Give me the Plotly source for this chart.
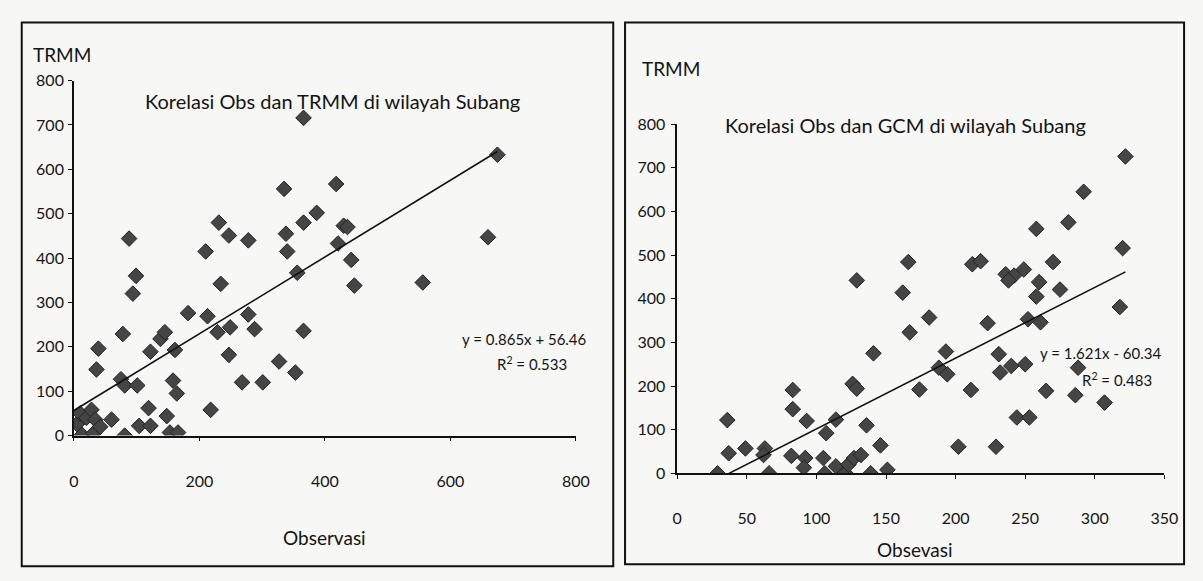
import plotly.graph_objects as go

W, H = 1203, 581

# ---- Left panel data: Observasi vs TRMM ----
obs_trmm = [5, 10, 13, 20, 28, 31, 34, 42, 39, 36, 60, 75, 81, 81, 78, 88, 99, 94, 101, 104,
            119, 122, 122, 138, 145, 148, 153, 158, 161, 164, 166, 182, 210, 213, 218, 229,
            231, 234, 247, 247, 249, 268, 278, 278, 288, 301, 327, 335, 338, 340, 353, 356,
            366, 366, 366, 387, 418, 421, 430, 436, 442, 447, 556, 660, 675]
trmm = [26, 50, 2, 40, 58, 5, 36, 20, 196, 149, 36, 127, 113, 0, 229, 444, 360, 320, 113, 22,
        62, 22, 189, 218, 233, 44, 7, 124, 193, 95, 7, 276, 415, 269, 58, 233,
        480, 342, 451, 182, 244, 120, 440, 273, 240, 120, 167, 556, 455, 415, 142, 367,
        716, 480, 236, 502, 567, 433, 473, 470, 396, 338, 345, 447, 633]
trend1_slope, trend1_icpt = 0.865, 56.46
trend1_x = [0, 675]

# ---- Right panel data: Observasi vs GCM ----
obs_gcm = [29, 36, 37, 49, 63, 62, 66, 82, 83, 83, 93, 92, 91, 105, 106, 107, 114, 114, 121, 123,
           127, 132, 126, 129, 129, 136, 139, 141, 146, 151, 162, 166, 167, 174, 181, 188, 194,
           193, 202, 211, 212, 218, 223, 229, 231, 232, 240, 236, 242, 238, 249, 244, 250, 253,
           252, 261, 258, 260, 258, 265, 270, 275, 281, 286, 288, 292, 307, 318, 320, 322]
gcm = [0, 122, 46, 57, 57, 42, 0, 40, 147, 191, 120, 35, 13, 35, 0, 92, 123, 16, 0, 20,
       35, 42, 205, 194, 442, 110, 0, 275, 64, 8, 414, 484, 323, 192, 357, 242, 227,
       279, 61, 191, 479, 486, 344, 61, 273, 231, 246, 456, 453, 442, 467, 128, 250, 128,
       353, 346, 405, 438, 560, 189, 484, 421, 575, 179, 242, 645, 162, 381, 516, 726]
trend2_slope, trend2_icpt = 1.621, -60.34
trend2_x = [37.2, 322]

xticks1 = [0, 200, 400, 600, 800]
yticks = [0, 100, 200, 300, 400, 500, 600, 700, 800]
xticks2 = [0, 50, 100, 150, 200, 250, 300, 350]

FONT = "Lato"
TXT = "#141414"
MK = dict(symbol="diamond", size=12, color="#454545", line=dict(color="#242424", width=1))


def px(x):
    return x / W


def py(y):
    return 1 - y / H


fig = go.Figure()
fig.add_trace(go.Scatter(x=obs_trmm, y=trmm, mode="markers", marker=MK, xaxis="x", yaxis="y",
                         showlegend=False))
fig.add_trace(go.Scatter(x=trend1_x, y=[trend1_slope * v + trend1_icpt for v in trend1_x],
                         mode="lines", line=dict(color="#111", width=1.6), xaxis="x", yaxis="y",
                         showlegend=False))
fig.add_trace(go.Scatter(x=obs_gcm, y=gcm, mode="markers", marker=MK, xaxis="x2", yaxis="y2",
                         showlegend=False))
fig.add_trace(go.Scatter(x=trend2_x, y=[trend2_slope * v + trend2_icpt for v in trend2_x],
                         mode="lines", line=dict(color="#111", width=1.6), xaxis="x2", yaxis="y2",
                         showlegend=False))

ax_common = dict(showgrid=False, zeroline=False, showline=True, linecolor="#111", linewidth=1.5,
                 ticks="outside", ticklen=4, tickcolor="#111", tickwidth=1.2,
                 tickfont=dict(family=FONT, size=16, color=TXT))

fig.update_layout(
    width=W, height=H, margin=dict(l=0, r=0, t=0, b=0),
    paper_bgcolor="#f7f7f5", plot_bgcolor="rgba(0,0,0,0)",
    font=dict(family=FONT, color=TXT),
    xaxis=dict(domain=[px(70), px(580)], range=[0, 800], tickvals=xticks1, anchor="y",
               ticklabelstandoff=26, **ax_common),
    yaxis=dict(domain=[py(440), py(73)], range=[0, 800], tickvals=yticks, anchor="x",
               ticklabelstandoff=1, **ax_common),
    xaxis2=dict(domain=[px(683), px(1178)], range=[0, 350], tickvals=xticks2, anchor="y2",
                ticklabelstandoff=26, **ax_common),
    yaxis2=dict(domain=[py(479), py(118)], range=[0, 800], tickvals=yticks, anchor="x2",
                ticklabelstandoff=3, **ax_common),
)

shapes = [
    dict(type="rect", xref="paper", yref="paper", x0=px(17), x1=px(618), y0=py(575), y1=py(13),
         line=dict(color="#111", width=2)),
    dict(type="rect", xref="paper", yref="paper", x0=px(630), x1=px(1198), y0=py(573), y1=py(13),
         line=dict(color="#111", width=2)),
]
fig.update_layout(shapes=shapes)


def ann(text, x, y, size, anchor="center"):
    return dict(text=text, x=px(x), y=py(y), xref="paper", yref="paper", showarrow=False,
                xanchor=anchor, yanchor="middle", font=dict(family=FONT, size=size, color=TXT))


annotations = [
    ann("TRMM", 58, 46, 19),
    ann("TRMM", 677, 60, 19),
    ann("Korelasi Obs dan TRMM di wilayah Subang", 333, 94, 20),
    ann("Korelasi Obs dan GCM di wilayah Subang", 915, 119, 20),
    ann("Observasi", 325, 545, 19),
    ann("Obsevasi", 925, 558, 19),
    ann("y = 0.865x + 56.46", 528, 340, 15),
    ann("R<sup>2</sup> = 0.533", 535, 365, 15),
    ann("y = 1.621x - 60.34", 1113, 355, 15),
    ann("R<sup>2</sup> = 0.483", 1130, 382, 15),
]
fig.update_layout(annotations=annotations)

fig.write_html("out.html")
